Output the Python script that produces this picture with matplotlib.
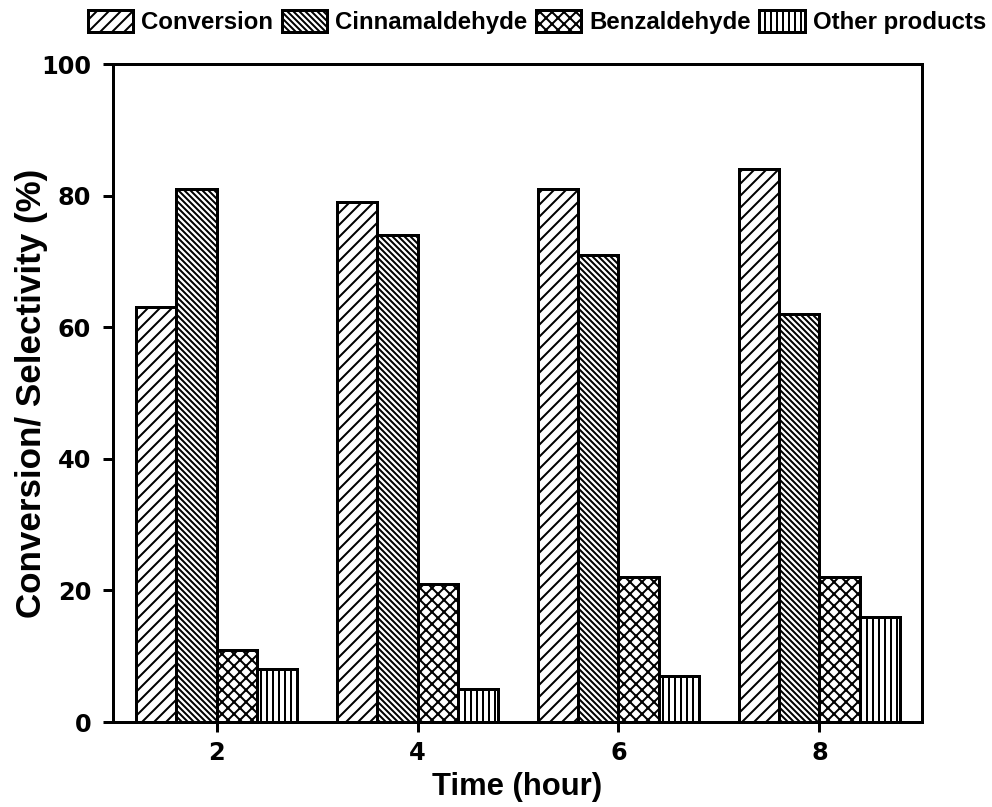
import numpy as np
import matplotlib
matplotlib.use("Agg")
import matplotlib.pyplot as plt

# data
times = [2, 4, 6, 8]
conversion = [63, 79, 81, 84]
cinnamaldehyde = [81, 74, 71, 62]
benzaldehyde = [11, 21, 22, 22]
other_products = [8, 5, 7, 16]

series = [
    ("Conversion", conversion, "//"),
    ("Cinnamaldehyde", cinnamaldehyde, "\\\\\\\\"),
    ("Benzaldehyde", benzaldehyde, "xx"),
    ("Other products", other_products, "||"),
]

DPI = 72
plt.rcParams["font.family"] = ["Liberation Sans", "DejaVu Sans"]
plt.rcParams["font.weight"] = "bold"
plt.rcParams["hatch.linewidth"] = 2.0

fig = plt.figure(figsize=(992 / DPI, 807 / DPI), dpi=DPI)
ax = fig.add_axes([113 / 992, 1 - 722 / 807, (922 - 113) / 992, (722 - 64) / 807])

xs = np.array(times, dtype=float)
width = 0.4
for i, (label, vals, hatch) in enumerate(series):
    ax.bar(xs + (i - 2) * width, vals, width, align="edge",
           facecolor="white", edgecolor="black", linewidth=3,
           hatch=hatch, label=label)

ax.set_xlim(0.97, 9.02)
ax.set_ylim(0, 100)
ax.set_xticks(times)
ax.set_yticks([0, 20, 40, 60, 80, 100])

for sp in ax.spines.values():
    sp.set_linewidth(3)

ax.tick_params(axis="both", which="both", direction="out", length=10, width=3,
               top=False, right=False)
ax.tick_params(axis="y", pad=12)
ax.tick_params(axis="x", pad=9)
for lab in ax.get_xticklabels() + ax.get_yticklabels():
    lab.set_fontfamily("DejaVu Sans")
    lab.set_fontweight("bold")
    lab.set_fontsize(24)

ax.set_xlabel("Time (hour)", fontsize=31, fontweight="bold", labelpad=7)
ax.set_ylabel("Conversion/ Selectivity (%)", fontsize=35, fontweight="bold", labelpad=-7)

leg = fig.legend(loc="center", bbox_to_anchor=(537 / 992, 1 - 22 / 807), ncol=4,
                 frameon=False, fontsize=24, handlelength=1.9, handleheight=1.05,
                 handletextpad=0.33, columnspacing=0.35, borderpad=0, borderaxespad=0)
for t in leg.get_texts():
    t.set_fontweight("bold")

fig.savefig("out.png", dpi=DPI)
